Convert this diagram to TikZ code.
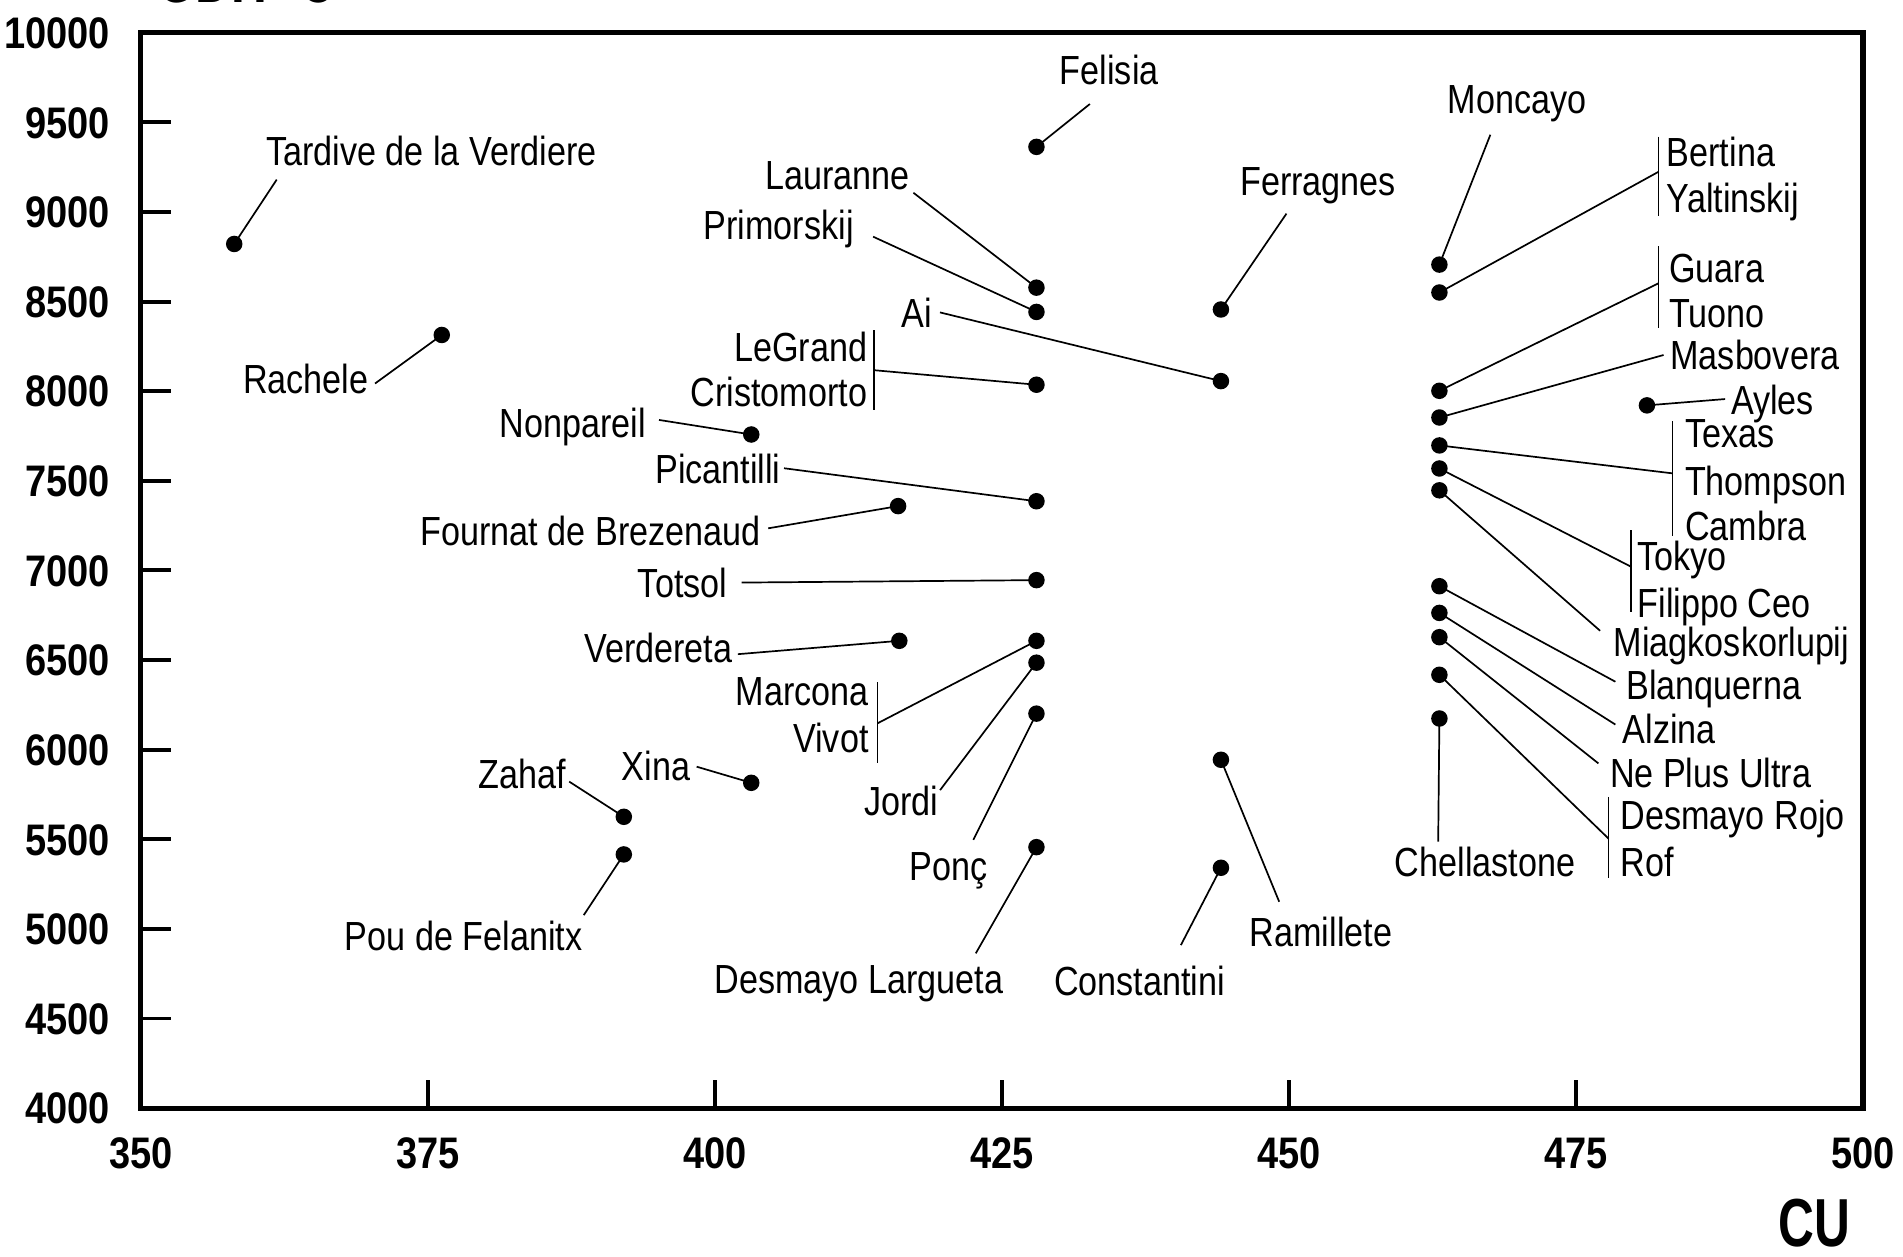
\documentclass[tikz,border=0pt]{standalone}
\usepackage{fontspec}
\setmainfont{Liberation Sans}[FakeStretch=0.84]
\newfontfamily\numfont{Liberation Sans}[FakeStretch=0.86]
\newfontfamily\cufont{Liberation Sans}[FakeStretch=0.73]
\tikzset{
  lbl/.style={inner sep=0pt, font=\fontsize{16.75}{18}\selectfont, text height=12pt, text depth=0pt},
  numlbl/.style={inner sep=0pt, font=\numfont\bfseries\fontsize{18.2}{20}\selectfont, text height=13pt, text depth=0pt},
  pdot/.style={circle, fill=black, inner sep=0pt, minimum size=6.8pt},
  leader/.style={line width=0.7pt},
  axisline/.style={line width=2.1pt},
  tickln/.style={line width=1.6pt},
}
\begin{document}
\begin{tikzpicture}[x=0.5pt,y=-0.5pt]
\useasboundingbox (0,0) rectangle (1568,1035);
% title (cut off at the top)
\node[inner sep=0pt, anchor=base west, font=\cufont\bfseries\fontsize{28}{30}\selectfont] (title) at (129,2) {GDH ºC};
% frame
\draw[axisline] (116,27) rectangle (1535,913);
% y axis
\foreach \v/\yy in {10000/27,9500/100.8,9000/174.7,8500/248.5,8000/322.3,7500/396.2,7000/470,6500/543.8,6000/617.7,5500/691.5,5000/765.3,4500/839.2,4000/913}{
  \node[numlbl, anchor=east] (yl\v) at (91,\yy) {\v};
}
\foreach \yy in {100.8,174.7,248.5,322.3,396.2,470,543.8,617.7,691.5,765.3,839.2}{
  \draw[tickln] (116,\yy) -- (141,\yy);
}
% x axis
\foreach \v/\xx in {350/116,375/352.5,400/589,425/825.5,450/1062,475/1298.5,500/1535}{
  \node[numlbl] (xl\v) at (\xx,950) {\v};
}
\foreach \xx in {352.5,589,825.5,1062,1298.5}{
  \draw[tickln] (\xx,913) -- (\xx,890);
}
\node[inner sep=0pt, text height=20pt, text depth=0pt, font=\cufont\bfseries\fontsize{28}{30}\selectfont] (cu) at (1495,1007) {CU};

% data points
\node[pdot] (dT) at (193,201) {};
\node[pdot] (dRa) at (364,276) {};
\node[pdot] (dNo) at (619,358) {};
\node[pdot] (dFe) at (854,121) {};
\node[pdot] (dLa) at (854,237) {};
\node[pdot] (dPr) at (854,257) {};
\node[pdot] (dAi) at (1006,314) {};
\node[pdot] (dLG) at (854,317) {};
\node[pdot] (dFer) at (1006,255) {};
\node[pdot] (dPi) at (854,413) {};
\node[pdot] (dFo) at (740,417) {};
\node[pdot] (dTo) at (854,478) {};
\node[pdot] (dVe) at (741,528) {};
\node[pdot] (dMV) at (854,528) {};
\node[pdot] (dJo) at (854,546) {};
\node[pdot] (dPo) at (854,588) {};
\node[pdot] (dDL) at (854,698) {};
\node[pdot] (dCo) at (1006,715) {};
\node[pdot] (dRam) at (1006,626) {};
\node[pdot] (dXi) at (619,645) {};
\node[pdot] (dZa) at (514,673) {};
\node[pdot] (dPou) at (514,704) {};
\node[pdot] (dMo) at (1186,218) {};
\node[pdot] (dBY) at (1186,241) {};
\node[pdot] (dGT) at (1186,322) {};
\node[pdot] (dMa) at (1186,344) {};
\node[pdot] (dAy) at (1357,334) {};
\node[pdot] (dTT) at (1186,367) {};
\node[pdot] (dTF) at (1186,386) {};
\node[pdot] (dMi) at (1186,404) {};
\node[pdot] (dBl) at (1186,483) {};
\node[pdot] (dAl) at (1186,505) {};
\node[pdot] (dNP) at (1186,525) {};
\node[pdot] (dDR) at (1186,556) {};
\node[pdot] (dCh) at (1186,592) {};

% labels
\node[lbl] (lT) at (355.5,124.6) {Tardive de la Verdiere};
\node[lbl] (lRa) at (252,312.4) {Rachele};
\node[lbl] (lNo) at (471.8,348.8) {Nonpareil};
\node[lbl] (lFe) at (914,57.7) {Felisia};
\node[lbl] (lLa) at (690,143.8) {Lauranne};
\node[lbl] (lPr) at (641.6,185) {Primorskij};
\node[lbl] (lAi) at (755.7,257.6) {Ai};
\node[lbl, anchor=east] (lLG1) at (715,285.6) {LeGrand};
\node[lbl, anchor=east] (lLG2) at (715,322.7) {Cristomorto};
\node[lbl] (lFer) at (1086,149) {Ferragnes};
\node[lbl] (lPi) at (591.5,386) {Picantilli};
\node[lbl] (lFo) at (486.7,437.4) {Fournat de Brezenaud};
\node[lbl] (lTo) at (562.4,480) {Totsol};
\node[lbl] (lVe) at (542.4,533.5) {Verdereta};
\node[lbl, anchor=east] (lMV1) at (716,569.3) {Marcona};
\node[lbl, anchor=east] (lMV2) at (716,608.4) {Vivot};
\node[lbl] (lJo) at (742.7,660) {Jordi};
\node[lbl] (lPo) at (781.7,713.4) {Ponç};
\node[lbl] (lDL) at (707.7,806.9) {Desmayo Largueta};
\node[lbl] (lCo) at (939,808.2) {Constantini};
\node[lbl] (lRam) at (1088.5,767.7) {Ramillete};
\node[lbl] (lXi) at (540.5,631) {Xina};
\node[lbl] (lZa) at (430.3,638) {Zahaf};
\node[lbl] (lPou) at (382,771) {Pou de Felanitx};
\node[lbl] (lMo) at (1250,81.7) {Moncayo};
\node[lbl, anchor=west] (lBY1) at (1373,125) {Bertina};
\node[lbl, anchor=west] (lBY2) at (1373,162.7) {Yaltinskij};
\node[lbl, anchor=west] (lGT1) at (1375,220.4) {Guara};
\node[lbl, anchor=west] (lGT2) at (1375,257.5) {Tuono};
\node[lbl, anchor=west] (lMa) at (1376,292.6) {Masbovera};
\node[lbl, anchor=west] (lAy) at (1426,329.6) {Ayles};
\node[lbl, anchor=west] (lTT1) at (1388,357) {Texas};
\node[lbl, anchor=west] (lTT2) at (1388,396) {Thompson};
\node[lbl, anchor=west] (lTT3) at (1388,433.3) {Cambra};
\node[lbl, anchor=west] (lTF1) at (1349,458) {Tokyo};
\node[lbl, anchor=west] (lTF2) at (1349,497) {Filippo Ceo};
\node[lbl] (lMi) at (1426.7,528.7) {Miagkoskorlupij};
\node[lbl] (lBl) at (1412,564) {Blanquerna};
\node[lbl] (lAl) at (1375.4,600.8) {Alzina};
\node[lbl] (lNP) at (1409.5,636.5) {Ne Plus Ultra};
\node[lbl, anchor=west] (lDR1) at (1335,671.5) {Desmayo Rojo};
\node[lbl, anchor=west] (lDR2) at (1335,710) {Rof};
\node[lbl] (lCh) at (1223.6,710) {Chellastone};

% leader start points
\coordinate (cT) at (228,148);
\coordinate (cRa) at (309,316);
\coordinate (cNo) at (543,346);
\coordinate (cFe) at (898,85.7);
\coordinate (cLa) at (752.6,158.8);
\coordinate (cPr) at (719.4,195);
\coordinate (cAi) at (774.5,257.4);
\coordinate (cLG) at (720,305);
\coordinate (cFer) at (1060,176);
\coordinate (cPi) at (646,385.8);
\coordinate (cFo) at (633,435.3);
\coordinate (cTo) at (611,480);
\coordinate (cVe) at (608,539);
\coordinate (cMV) at (723,596);
\coordinate (cJo) at (774.6,651);
\coordinate (cPo) at (802,692);
\coordinate (cDL) at (804,785.5);
\coordinate (cCo) at (973,778.7);
\coordinate (cRam) at (1054,743);
\coordinate (cXi) at (574,631.7);
\coordinate (cZa) at (469,644);
\coordinate (cPou) at (481,754);
\coordinate (cMo) at (1228,111);
\coordinate (cBY) at (1366.6,141.5);
\coordinate (cGT) at (1366.6,233.4);
\coordinate (cMa) at (1370.7,292.5);
\coordinate (cAy) at (1421.4,328.8);
\coordinate (cTT) at (1378,390);
\coordinate (cTF) at (1344,467);
\coordinate (cMi) at (1318.4,519.7);
\coordinate (cBl) at (1331,561.7);
\coordinate (cAl) at (1331,597);
\coordinate (cNP) at (1317,629);
\coordinate (cDR) at (1325.4,691);
\coordinate (cCh) at (1185,693.5);

% bracket bars
\coordinate (bLGt) at (720,272);   \coordinate (bLGb) at (720,338);
\coordinate (bMVt) at (723,562);   \coordinate (bMVb) at (723,629);
\coordinate (bBYt) at (1366.6,112.6); \coordinate (bBYb) at (1366.6,178);
\coordinate (bGTt) at (1366.6,203); \coordinate (bGTb) at (1366.6,270.5);
\coordinate (bTTt) at (1378,347);  \coordinate (bTTb) at (1378,442);
\coordinate (bTFt) at (1344,437);  \coordinate (bTFb) at (1344,504);
\coordinate (bDRt) at (1325.4,656.5); \coordinate (bDRb) at (1325.4,723.5);

\foreach \g in {LG,MV,BY,GT,TT,TF,DR}{
  \draw[leader] (b\g t) -- (b\g b);
}

% leaders
\foreach \k in {T,Ra,No,Fe,La,Pr,Ai,LG,Fer,Pi,Fo,To,Ve,MV,Jo,Po,DL,Co,Ram,Xi,Za,Pou,Mo,BY,GT,Ma,Ay,TT,TF,Mi,Bl,Al,NP,DR,Ch}{
  \draw[leader] (c\k) -- (d\k.center);
}
\end{tikzpicture}
\end{document}
